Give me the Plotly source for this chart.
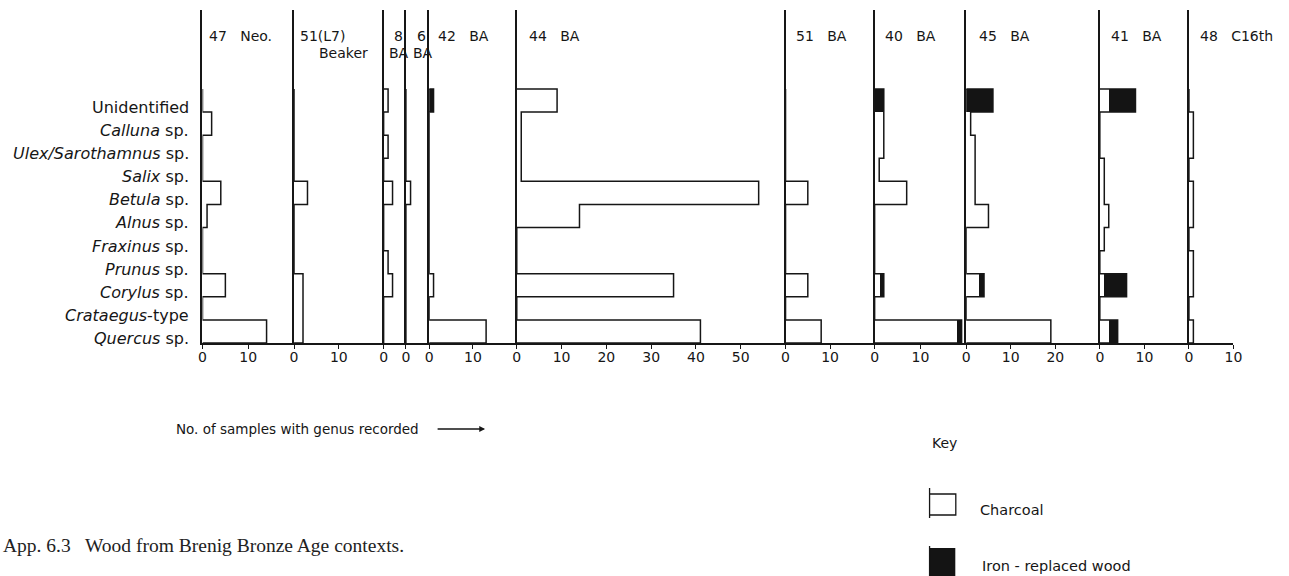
import plotly.graph_objects as go

# ---------------------------------------------------------------- data
taxa = [
    "Unidentified",
    "<i>Calluna</i> sp.",
    "<i>Ulex/Sarothamnus</i> sp.",
    "<i>Salix</i> sp.",
    "<i>Betula</i> sp.",
    "<i>Alnus</i> sp.",
    "<i>Fraxinus</i> sp.",
    "<i>Prunus</i> sp.",
    "<i>Corylus</i> sp.",
    "<i>Crataegus</i>-type",
    "<i>Quercus</i> sp.",
]

site_codes = ["47", "51(L7)", "8", "6", "42", "44", "51", "40", "45", "41", "48"]
site_periods = ["Neo.", "Beaker", "BA", "BA", "BA", "BA", "BA", "BA", "BA", "BA", "C16th"]

# number of samples per taxon (same order as taxa), charcoal
charcoal_47_neo = [0, 2, 0, 0, 4, 1, 0, 0, 5, 0, 14]
charcoal_51_l7 = [0, 0, 0, 0, 3, 0, 0, 0, 2, 2, 2]
charcoal_8_ba = [1, 0, 1, 0, 2, 0, 0, 1, 2, 0, 0]
charcoal_6_ba = [0, 0, 0, 0, 1, 0, 0, 0, 0, 0, 0]
charcoal_42_ba = [0, 0, 0, 0, 0, 0, 0, 0, 1, 0, 13]
charcoal_44_ba = [9, 1, 1, 1, 54, 14, 0, 0, 35, 0, 41]
charcoal_51_ba = [0, 0, 0, 0, 5, 0, 0, 0, 5, 0, 8]
charcoal_40_ba = [0, 2, 2, 1, 7, 0, 0, 0, 1, 0, 18]
charcoal_45_ba = [0, 1, 2, 2, 2, 5, 0, 0, 3, 0, 19]
charcoal_41_ba = [2, 0, 0, 1, 1, 2, 1, 0, 1, 0, 2]
charcoal_48_c16 = [0, 1, 1, 0, 1, 1, 0, 1, 1, 0, 1]

# iron-replaced wood
iron_47_neo = [0, 0, 0, 0, 0, 0, 0, 0, 0, 0, 0]
iron_51_l7 = [0, 0, 0, 0, 0, 0, 0, 0, 0, 0, 0]
iron_8_ba = [0, 0, 0, 0, 0, 0, 0, 0, 0, 0, 0]
iron_6_ba = [0, 0, 0, 0, 0, 0, 0, 0, 0, 0, 0]
iron_42_ba = [1, 0, 0, 0, 0, 0, 0, 0, 0, 0, 0]
iron_44_ba = [0, 0, 0, 0, 0, 0, 0, 0, 0, 0, 0]
iron_51_ba = [0, 0, 0, 0, 0, 0, 0, 0, 0, 0, 0]
iron_40_ba = [2, 0, 0, 0, 0, 0, 0, 0, 1, 0, 1]
iron_45_ba = [6, 0, 0, 0, 0, 0, 0, 0, 1, 0, 0]
iron_41_ba = [6, 0, 0, 0, 0, 0, 0, 0, 5, 0, 2]
iron_48_c16 = [0, 0, 0, 0, 0, 0, 0, 0, 0, 0, 0]

charcoal = [charcoal_47_neo, charcoal_51_l7, charcoal_8_ba, charcoal_6_ba, charcoal_42_ba,
            charcoal_44_ba, charcoal_51_ba, charcoal_40_ba, charcoal_45_ba, charcoal_41_ba,
            charcoal_48_c16]
iron = [iron_47_neo, iron_51_l7, iron_8_ba, iron_6_ba, iron_42_ba, iron_44_ba,
        iron_51_ba, iron_40_ba, iron_45_ba, iron_41_ba, iron_48_c16]

# ---------------------------------------------------------------- layout config
W, H = 1289, 576
panel_left_px = [200.5, 293, 383.5, 406, 429.5, 518, 789.5, 879.5, 972, 1107, 1197]
panel_end_px = 1242
axis_max = [20, 20, 5, 5, 20, 60, 20, 20, 30, 20, 10]
header_dx = [4.5, 4, 8, 9, 6.5, 10, 8.5, 8.5, 11, 9.5, 9.5]   # header offset from panel line
stacked_header = [False, True, True, True, False, False, False, False, False, False, False]
sub_dx = [0, 23, 3, 5, 0, 0, 0, 0, 0, 0, 0]

AXIS_BOTTOM_PX, AXIS_TOP_PX = 343, 10
ROW_PX = 23.09
FONT = "DejaVu Sans"
INK = "#161616"


def fx(p):
    return p / W


def fy(p):
    return 1 - p / H


n = len(taxa)
pos = [n - 1 - i for i in range(n)]          # Unidentified on top
y_top = -0.5 + (AXIS_BOTTOM_PX - AXIS_TOP_PX) / ROW_PX

fig = go.Figure()
layout_axes = {}

for k in range(len(site_codes)):
    xa = "x" if k == 0 else f"x{k + 1}"
    ya = "y" if k == 0 else f"y{k + 1}"
    x0 = panel_left_px[k]
    x1 = panel_left_px[k + 1] if k + 1 < len(panel_left_px) else panel_end_px

    # charcoal (open) and iron-replaced (solid) portions
    fig.add_trace(go.Bar(
        y=pos, x=charcoal[k], orientation="h", width=1,
        marker=dict(color="white", line=dict(width=0)),
        name="Charcoal", showlegend=False, xaxis=xa, yaxis=ya,
    ))
    fig.add_trace(go.Bar(
        y=pos, x=iron[k], orientation="h", width=1,
        marker=dict(color="#141414", line=dict(width=0)),
        name="Iron-replaced wood", showlegend=False, xaxis=xa, yaxis=ya,
    ))

    # stepped outline around the total of each row
    totals = [c + f for c, f in zip(charcoal[k], iron[k])]
    sx, sy = [0], [-0.5]
    for i in reversed(range(n)):
        sx += [totals[i], totals[i]]
        sy += [pos[i] - 0.5, pos[i] + 0.5]
    sx.append(0)
    sy.append(n - 0.5)
    fig.add_trace(go.Scatter(
        x=sx, y=sy, mode="lines", line=dict(color=INK, width=1.5),
        hoverinfo="skip", showlegend=False, xaxis=xa, yaxis=ya,
    ))

    last = k == len(site_codes) - 1
    ticks = list(range(0, axis_max[k] + (1 if last else 0), 10))
    xkey = "xaxis" if k == 0 else f"xaxis{k + 1}"
    ykey = "yaxis" if k == 0 else f"yaxis{k + 1}"
    layout_axes[xkey] = dict(
        domain=[fx(x0), fx(x1)], range=[0, axis_max[k]], anchor=ya,
        showline=True, linecolor=INK, linewidth=1.5,
        ticks="outside", ticklen=4, tickwidth=1.3, tickcolor=INK,
        tickvals=ticks, ticktext=[str(t) for t in ticks],
        tickfont=dict(family=FONT, size=14, color=INK),
        ticklabelstandoff=-4,
        showgrid=False, zeroline=False, fixedrange=True,
    )
    layout_axes[ykey] = dict(
        domain=[fy(AXIS_BOTTOM_PX), fy(AXIS_TOP_PX)], range=[-0.5, y_top],
        anchor=xa, showline=True, linecolor=INK, linewidth=1.5,
        showticklabels=False, ticks="", showgrid=False, zeroline=False,
        fixedrange=True,
    )

fig.update_layout(**layout_axes)

annotations = []

# taxon labels, set just below the centre of each row
for i, t in enumerate(taxa):
    annotations.append(dict(
        x=fx(189), xref="paper", y=pos[i] - 0.3, yref="y",
        text=t, showarrow=False, xanchor="right", yanchor="middle",
        font=dict(family=FONT, size=16, color=INK),
    ))

# site headers
for k, code in enumerate(site_codes):
    hx = panel_left_px[k] + header_dx[k]
    if stacked_header[k]:
        annotations.append(dict(x=fx(hx), y=fy(36), xref="paper", yref="paper",
                                text=code, showarrow=False, xanchor="left", yanchor="middle",
                                font=dict(family=FONT, size=14, color=INK)))
        annotations.append(dict(x=fx(panel_left_px[k] + sub_dx[k]), y=fy(52.5),
                                xref="paper", yref="paper",
                                text=site_periods[k], showarrow=False, xanchor="left",
                                yanchor="middle", font=dict(family=FONT, size=14, color=INK)))
    else:
        annotations.append(dict(x=fx(hx), y=fy(36), xref="paper", yref="paper",
                                text=code + "\u00a0\u00a0\u00a0" + site_periods[k],
                                showarrow=False, xanchor="left", yanchor="middle",
                                font=dict(family=FONT, size=14, color=INK)))

# axis caption with arrow
annotations.append(dict(x=fx(172), y=fy(429), xref="paper", yref="paper",
                        text="No.\u00a0of samples with genus recorded", showarrow=False,
                        xanchor="left", yanchor="middle",
                        font=dict(family=FONT, size=13.5, color=INK)))
annotations.append(dict(x=fx(486), y=fy(429), xref="paper", yref="paper", text="",
                        showarrow=True, ax=-49, ay=0, axref="pixel", ayref="pixel",
                        arrowhead=2, arrowsize=0.9, arrowwidth=1.3, arrowcolor=INK,
                        standoff=0, startstandoff=0))

# key
annotations.append(dict(x=fx(935), y=fy(443), xref="paper", yref="paper", text="Key",
                        showarrow=False, xanchor="left", yanchor="middle",
                        font=dict(family=FONT, size=14, color=INK)))
annotations.append(dict(x=fx(984), y=fy(510), xref="paper", yref="paper", text="Charcoal",
                        showarrow=False, xanchor="left", yanchor="middle",
                        font=dict(family=FONT, size=14.5, color=INK)))
annotations.append(dict(x=fx(986), y=fy(566), xref="paper", yref="paper",
                        text="Iron\u00a0-\u00a0replaced wood",
                        showarrow=False, xanchor="left", yanchor="middle",
                        font=dict(family=FONT, size=14.5, color=INK)))

# figure caption
annotations.append(dict(x=fx(-3), y=fy(545), xref="paper", yref="paper",
                        text="App. 6.3\u00a0\u00a0 Wood from Brenig Bronze Age contexts.",
                        showarrow=False, xanchor="left", yanchor="middle",
                        font=dict(family="Liberation Serif", size=19.5, color="#222222")))

shapes = [
    # open box for charcoal
    dict(type="path", xref="paper", yref="paper",
         path=(f"M {fx(935)},{fy(488)} L {fx(935)},{fy(518)} "
               f"M {fx(935)},{fy(494)} L {fx(961.5)},{fy(494)} L {fx(961.5)},{fy(515)} "
               f"L {fx(935)},{fy(515)}"),
         line=dict(color=INK, width=1.3)),
    # solid box for iron-replaced wood
    dict(type="rect", xref="paper", yref="paper",
         x0=fx(935), x1=fx(961), y0=fy(576), y1=fy(548),
         fillcolor="#141414", line=dict(width=0)),
    dict(type="line", xref="paper", yref="paper",
         x0=fx(935), x1=fx(935), y0=fy(546), y1=fy(576),
         line=dict(color=INK, width=1.3)),
]

fig.update_layout(
    width=W, height=H,
    margin=dict(l=0, r=0, t=0, b=0),
    paper_bgcolor="white", plot_bgcolor="rgba(0,0,0,0)",
    barmode="stack", bargap=0,
    showlegend=False,
    annotations=annotations,
    shapes=shapes,
    font=dict(family=FONT, color=INK),
)

fig.write_html("out.html")
